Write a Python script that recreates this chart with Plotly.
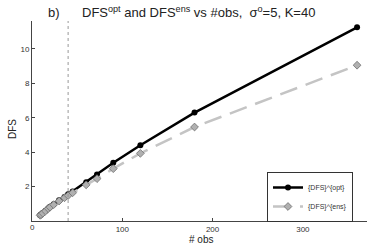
import plotly.graph_objects as go

n_obs = [9, 10, 12, 15, 18, 20, 24, 30, 36, 40, 45, 60, 72, 90, 120, 180, 360]
dfs_opt = [0.34, 0.38, 0.46, 0.60, 0.74, 0.83, 0.98, 1.20, 1.40, 1.55, 1.72, 2.25, 2.70, 3.38, 4.40, 6.30, 11.25]
dfs_ens = [0.33, 0.37, 0.45, 0.58, 0.72, 0.80, 0.95, 1.16, 1.35, 1.48, 1.64, 2.10, 2.46, 3.04, 3.93, 5.46, 9.05]
K = 40
x_ticks = [0, 100, 200, 300]
y_ticks = [2, 4, 6, 8, 10]

font = "Liberation Sans, Arial, Helvetica, sans-serif"

L, R, T, B = 32, 7, 21, 28
W, H = 374, 249
pw = W - L - R
ph = H - T - B


def px(x):
    return (x - L) / pw


def py(y):
    return (H - B - y) / ph


fig = go.Figure()
fig.add_trace(go.Scatter(
    x=n_obs, y=dfs_opt, mode="lines+markers", name="{DFS}^{opt}",
    line=dict(color="black", width=2.5),
    marker=dict(symbol="circle", size=6, color="black"),
))
fig.add_trace(go.Scatter(
    x=n_obs, y=dfs_ens, mode="lines+markers", name="{DFS}^{ens}",
    line=dict(color="#c4c4c4", width=2.5, dash="18px,9px"),
    marker=dict(symbol="diamond", size=6, color="#b0b0b0", line=dict(color="#707070", width=0.8)),
))
fig.add_shape(type="line", x0=K, x1=K, y0=0, y1=1, yref="paper",
              line=dict(color="#999999", width=1, dash="dot"))

fig.update_layout(
    width=W, height=H,
    margin=dict(l=L, r=R, t=T, b=B),
    paper_bgcolor="white", plot_bgcolor="white",
    font=dict(family=font, size=8, color="#333333"),
    showlegend=True,
    legend=dict(x=px(353), y=py(172), xanchor="right", yanchor="top",
                bordercolor="#333333", borderwidth=1, bgcolor="white",
                font=dict(size=7, color="#333333"), tracegroupgap=0,
                itemwidth=30),
    annotations=[
        dict(text="b)", x=px(54), y=py(12), xref="paper", yref="paper", showarrow=False,
             xanchor="center", yanchor="middle",
             font=dict(size=13, color="#222222", family=font)),
        dict(text="DFS<sup>opt</sup> and DFS<sup>ens</sup> vs #obs,  σ<sup>o</sup>=5, K=40",
             x=px(198), y=py(12), xref="paper", yref="paper", showarrow=False,
             xanchor="center", yanchor="middle",
             font=dict(size=13, color="#222222", family=font)),
        dict(text="# obs", x=px(201), y=py(239), xref="paper", yref="paper", showarrow=False,
             xanchor="center", yanchor="middle",
             font=dict(size=10, color="#222222", family=font)),
        dict(text="DFS", x=px(12), y=py(129), xref="paper", yref="paper", showarrow=False,
             xanchor="center", yanchor="middle", textangle=-90,
             font=dict(size=10, color="#222222", family=font)),
        dict(text=str(x_ticks[0]), x=x_ticks[0], y=py(228), xref="x", yref="paper", showarrow=False,
             xanchor="center", yanchor="middle",
             font=dict(size=8, color="#333333", family=font)),
    ],
)

fig.update_xaxes(range=[0, 371], tickvals=x_ticks[1:], ticks="inside", ticklen=3,
                 showline=True, linecolor="#444444", linewidth=1, showgrid=False,
                 zeroline=False, tickcolor="#444444")
fig.update_yaxes(range=[0, 11.62], tickvals=y_ticks, ticks="inside", ticklen=3,
                 showline=True, linecolor="#444444", linewidth=1, showgrid=False,
                 zeroline=False, tickcolor="#444444")

fig.write_html("out.html", config={"displayModeBar": False},
               post_script="document.body.style.margin='0';document.body.style.padding='0';")
